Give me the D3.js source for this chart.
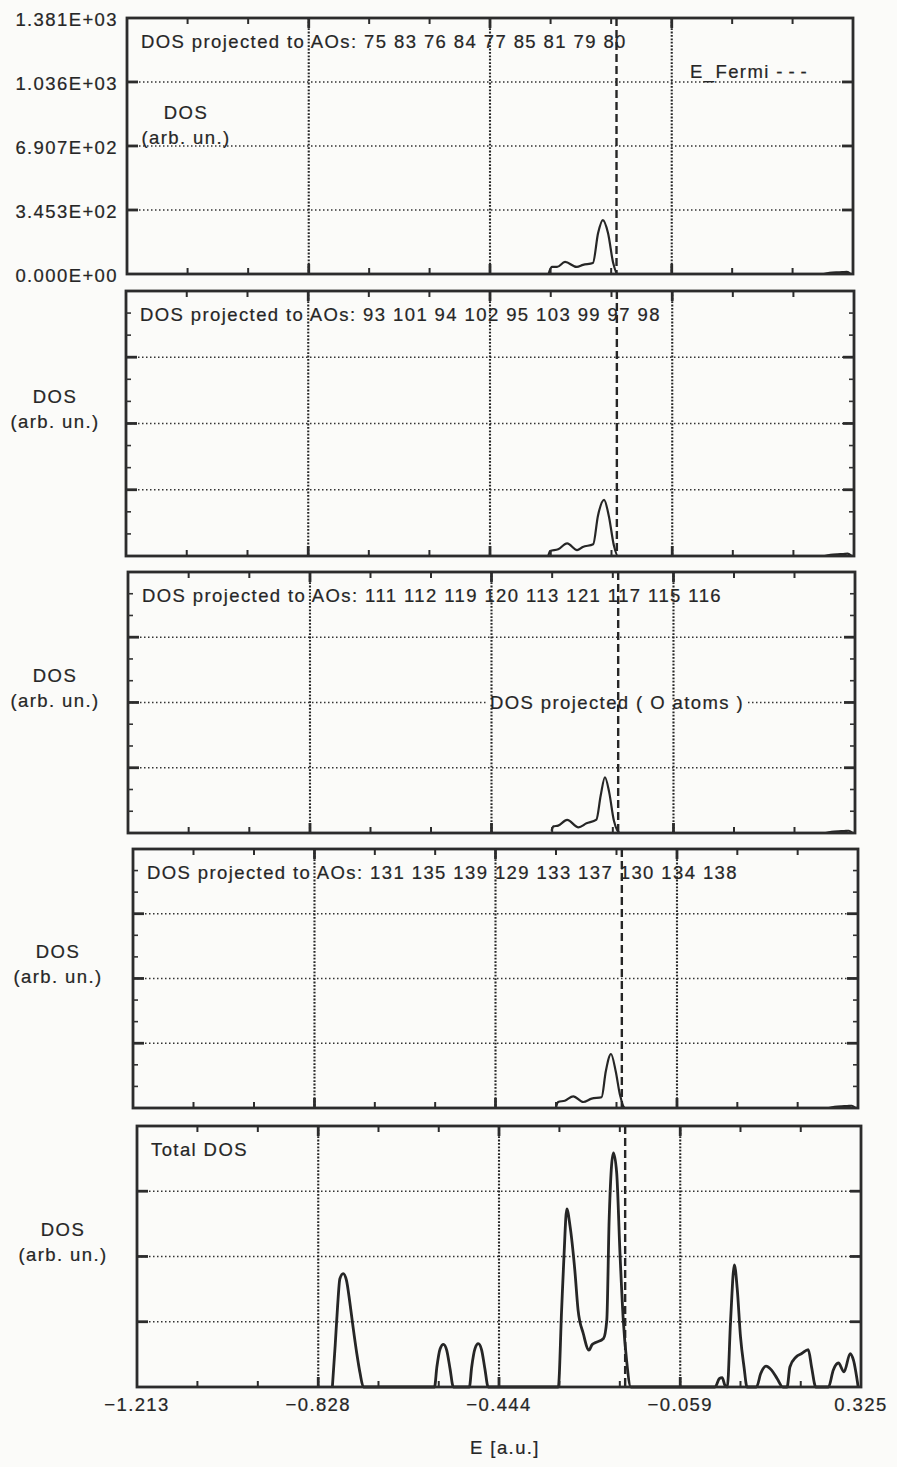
<!DOCTYPE html>
<html>
<head>
<meta charset="utf-8">
<script src="https://cdn.jsdelivr.net/npm/d3@7"></script>
<style>
  html, body { margin: 0; padding: 0; background: #fbfbf9; }
  svg { display: block; }
  text { font-family: "Liberation Sans", Arial, Helvetica, sans-serif; fill: #262626; stroke: #262626; stroke-width: 0.22px; }
</style>
</head>
<body>
<svg id="chart" width="897" height="1467"></svg>
<script>
// ---- data -------------------------------------------------------------
const energyTicks = [-1.213, -0.828, -0.444, -0.059, 0.325];
const energyTickLabels = ["\u22121.213", "\u22120.828", "\u22120.444", "\u22120.059", "0.325"];
const dosTicks = [0, 345.3, 690.7, 1036, 1381];
const dosTickLabels = ["0.000E+00", "3.453E+02", "6.907E+02", "1.036E+03", "1.381E+03"];
const eFermi = -0.176;

const panelTitles = [
  "DOS projected to AOs: 75 83 76 84 77 85 81 79 80",
  "DOS projected to AOs: 93 101 94 102 95 103 99 97 98",
  "DOS projected to AOs: 111 112 119 120 113 121 117 115 116",
  "DOS projected to AOs: 131 135 139 129 133 137 130 134 138",
  "Total DOS"
];

// projected DOS, AO set 1
const ao1Energy = [-0.320, -0.313, -0.302, -0.285, -0.260, -0.247, -0.226, -0.215, -0.205, -0.194, -0.183, -0.174,
                   0.262, 0.275, 0.290, 0.302, 0.312, 0.320];
const ao1Dos    = [0, 38, 38, 65, 38, 49, 59, 221, 291, 221, 59, 0,
                   0, 6, 9, 10, 12, 0];
// projected DOS, AO set 2
const ao2Energy = [-0.321, -0.317, -0.300, -0.281, -0.260, -0.248, -0.226, -0.216, -0.203, -0.193, -0.182, -0.174,
                   0.262, 0.275, 0.290, 0.302, 0.312, 0.320];
const ao2Dos    = [0, 26, 35, 66, 31, 47, 61, 209, 293, 209, 52, 0,
                   0, 6, 9, 10, 12, 0];
// projected DOS, AO set 3 (O atoms)
const ao3Energy = [-0.317, -0.313, -0.303, -0.284, -0.260, -0.243, -0.222, -0.213, -0.204, -0.195, -0.185, -0.172,
                   0.262, 0.275, 0.290, 0.302, 0.312, 0.320];
const ao3Dos    = [12, 35, 39, 69, 30, 51, 71, 198, 295, 215, 65, 0,
                   0, 6, 9, 10, 12, 0];
// projected DOS, AO set 4
const ao4Energy = [-0.316, -0.311, -0.297, -0.279, -0.258, -0.240, -0.219, -0.210, -0.199, -0.189, -0.180, -0.169,
                   0.262, 0.275, 0.290, 0.302, 0.312, 0.320];
const ao4Dos    = [0, 32, 39, 62, 32, 50, 57, 196, 288, 196, 71, 0,
                   0, 6, 9, 10, 12, 0];
// total DOS
const totalEnergy = [
  -0.798, -0.792, -0.787, -0.782, -0.775, -0.768, -0.761, -0.754, -0.746, -0.739, -0.732,
  -0.581, -0.576, -0.569, -0.562, -0.555, -0.548, -0.541,
  -0.507, -0.502, -0.495, -0.488, -0.481, -0.474, -0.467,
  -0.318, -0.311, -0.306, -0.300, -0.293, -0.283, -0.276, -0.265, -0.253, -0.246, -0.240, -0.222, -0.215, -0.210,
  -0.201, -0.194, -0.187, -0.180, -0.173, -0.164,
  0.015, 0.024, 0.030, 0.036, 0.041, 0.048, 0.056, 0.062, 0.069, 0.0765, 0.083,
  0.103, 0.112, 0.123, 0.135, 0.147, 0.159,
  0.168, 0.174, 0.187, 0.199, 0.213, 0.220, 0.229,
  0.256, 0.266, 0.277, 0.289, 0.302, 0.309, 0.319
];
const totalDos = [
  0, 220, 423, 573, 600, 564, 450, 317, 176, 71, 0,
  0, 106, 203, 226, 194, 97, 0,
  0, 106, 203, 229, 197, 97, 0,
  0, 407, 690, 942, 850, 620, 407, 283, 195, 225, 234, 257, 354, 885,
  1239, 1133, 708, 354, 142, 0,
  0, 44, 50, 9, 0, 354, 646, 522, 266, 106, 0,
  0, 71, 110, 89, 44, 0,
  0, 106, 159, 177, 198, 106, 0,
  0, 89, 127, 80, 177, 142, 0
];

const seriesEnergy = [ao1Energy, ao2Energy, ao3Energy, ao4Energy, totalEnergy];
const seriesDos = [ao1Dos, ao2Dos, ao3Dos, ao4Dos, totalDos];

// ---- layout -----------------------------------------------------------
const panels = [
  { left: 127, top: 18,   right: 853, bottom: 274,  yLabels: true,  minorY: false, lw: 2.2 },
  { left: 126, top: 291,  right: 854, bottom: 556,  yLabels: false, minorY: true,  lw: 2.2 },
  { left: 128, top: 572,  right: 855, bottom: 833,  yLabels: false, minorY: true,  lw: 2.2 },
  { left: 133, top: 849,  right: 858, bottom: 1108, yLabels: false, minorY: true,  lw: 2.2 },
  { left: 137, top: 1126, right: 861, bottom: 1387, yLabels: false, minorY: false, lw: 2.8 }
];
const ink = "#262626";
const bg = "#fbfbf9";
const fontSize = 18.5;
const spacing = "1.4px";

const svg = d3.select("#chart");

const minorEnergy = [];
for (let i = 0; i < energyTicks.length - 1; i++) {
  const a = energyTicks[i], b = energyTicks[i + 1];
  minorEnergy.push(a + (b - a) / 3, a + 2 * (b - a) / 3);
}
const minorDos = [];
for (let i = 0; i < dosTicks.length - 1; i++) {
  const a = dosTicks[i], b = dosTicks[i + 1];
  minorDos.push(a + (b - a) / 3, a + 2 * (b - a) / 3);
}

panels.forEach((p, idx) => {
  const x = d3.scaleLinear().domain([energyTicks[0], energyTicks[4]]).range([p.left, p.right]);
  const y = d3.scaleLinear().domain([0, 1381]).range([p.bottom, p.top]);
  const g = svg.append("g");

  // dotted grid
  g.selectAll(".hgrid").data(dosTicks.slice(1, 4)).join("line")
    .attr("x1", p.left).attr("x2", p.right)
    .attr("y1", d => y(d)).attr("y2", d => y(d))
    .attr("stroke", "#333").attr("stroke-width", 1.6)
    .attr("stroke-dasharray", "1.5,2.5");
  g.selectAll(".vgrid").data(energyTicks.slice(1, 4)).join("line")
    .attr("x1", d => x(d)).attr("x2", d => x(d))
    .attr("y1", p.top).attr("y2", p.bottom)
    .attr("stroke", "#262626").attr("stroke-width", 2.1)
    .attr("stroke-dasharray", "1.8,1.6");

  // Fermi level
  g.append("line")
    .attr("x1", x(eFermi)).attr("x2", x(eFermi))
    .attr("y1", p.top).attr("y2", p.bottom)
    .attr("stroke", ink).attr("stroke-width", 2.4)
    .attr("stroke-dasharray", "8,4");

  // label placed on the plot area
  if (idx === 2) {
    const t = g.append("text")
      .attr("x", 490).attr("y", y(690.7)).attr("dy", "0.35em")
      .attr("font-size", fontSize).attr("letter-spacing", spacing)
      .text("DOS projected ( O atoms )");
    const bb = t.node().getBBox();
    g.insert("rect", "text")
      .attr("x", bb.x - 2).attr("y", y(690.7) - 2).attr("width", bb.width + 4).attr("height", 4)
      .attr("fill", bg);
  }

  // DOS curve
  const pts = seriesEnergy[idx].map((e, i) => [e, seriesDos[idx][i]]);
  const line = d3.line().x(d => x(d[0])).y(d => y(d[1])).curve(d3.curveMonotoneX);
  g.append("path").attr("d", line(pts))
    .attr("fill", "none").attr("stroke", ink)
    .attr("stroke-width", p.lw).attr("stroke-linejoin", "round");

  // frame
  g.append("rect")
    .attr("x", p.left).attr("y", p.top)
    .attr("width", p.right - p.left).attr("height", p.bottom - p.top)
    .attr("fill", "none").attr("stroke", "#2c2c2c").attr("stroke-width", 2.8);

  // energy ticks (top and bottom)
  [[p.top, 1], [p.bottom, -1]].forEach(([yy, dir]) => {
    g.selectAll(null).data(energyTicks.slice(1, 4)).join("line")
      .attr("x1", d => x(d)).attr("x2", d => x(d))
      .attr("y1", yy).attr("y2", yy + dir * 10)
      .attr("stroke", "#2c2c2c").attr("stroke-width", 2.8);
    g.selectAll(null).data(minorEnergy).join("line")
      .attr("x1", d => x(d)).attr("x2", d => x(d))
      .attr("y1", yy).attr("y2", yy + dir * 6)
      .attr("stroke", "#2c2c2c").attr("stroke-width", 2);
  });

  // DOS ticks (left and right)
  [[p.left, 1], [p.right, -1]].forEach(([xx, dir]) => {
    g.selectAll(null).data(dosTicks.slice(1, 4)).join("line")
      .attr("x1", xx).attr("x2", xx + dir * 11)
      .attr("y1", d => y(d)).attr("y2", d => y(d))
      .attr("stroke", "#2c2c2c").attr("stroke-width", 2.8);
    if (p.minorY) {
      g.selectAll(null).data(minorDos.filter(v => dosTicks.indexOf(v) < 0)).join("line")
        .attr("x1", xx).attr("x2", xx + dir * 5)
        .attr("y1", d => y(d)).attr("y2", d => y(d))
        .attr("stroke", "#333").attr("stroke-width", 1.6);
    }
  });

  // panel title
  g.append("text")
    .attr("x", p.left + 14).attr("y", p.top + 30)
    .attr("font-size", fontSize).attr("letter-spacing", spacing)
    .text(panelTitles[idx]);

  // DOS axis tick labels (first panel only)
  if (p.yLabels) {
    g.selectAll(null).data(dosTicks).join("text")
      .attr("x", 118).attr("y", d => y(d)).attr("dy", "0.45em")
      .attr("text-anchor", "end")
      .attr("font-size", fontSize).attr("letter-spacing", spacing)
      .text((d, i) => dosTickLabels[i]);
  }

  // axis name "DOS (arb. un.)"
  const ax = idx === 0 ? 186 : [0, 55, 55, 58, 63][idx];
  const ay = idx === 0 ? 113 : (p.top + p.bottom) / 2 - 27;
  const lab = g.append("text").attr("text-anchor", "middle")
    .attr("font-size", fontSize).attr("letter-spacing", spacing);
  lab.append("tspan").attr("x", ax).attr("y", ay).attr("dy", "0.35em").text("DOS");
  lab.append("tspan").attr("x", ax).attr("y", ay + 25).attr("dy", "0.35em").text("(arb. un.)");

  // Fermi legend
  if (idx === 0) {
    const leg = g.append("text")
      .attr("x", 690).attr("y", 78)
      .attr("font-size", fontSize).attr("letter-spacing", spacing);
    leg.append("tspan").text("E_Fermi ");
    leg.append("tspan").attr("letter-spacing", "6px").text("---");
  }

  // energy tick labels and axis title (bottom panel)
  if (idx === 4) {
    g.selectAll(null).data(energyTicks).join("text")
      .attr("x", d => x(d)).attr("y", p.bottom + 18).attr("dy", "0.35em")
      .attr("text-anchor", "middle")
      .attr("font-size", fontSize).attr("letter-spacing", spacing)
      .text((d, i) => energyTickLabels[i]);
    g.append("text")
      .attr("x", 505).attr("y", 1448).attr("dy", "0.35em")
      .attr("text-anchor", "middle")
      .attr("font-size", fontSize).attr("letter-spacing", spacing)
      .text("E [a.u.]");
  }
});
</script>
</body>
</html>
